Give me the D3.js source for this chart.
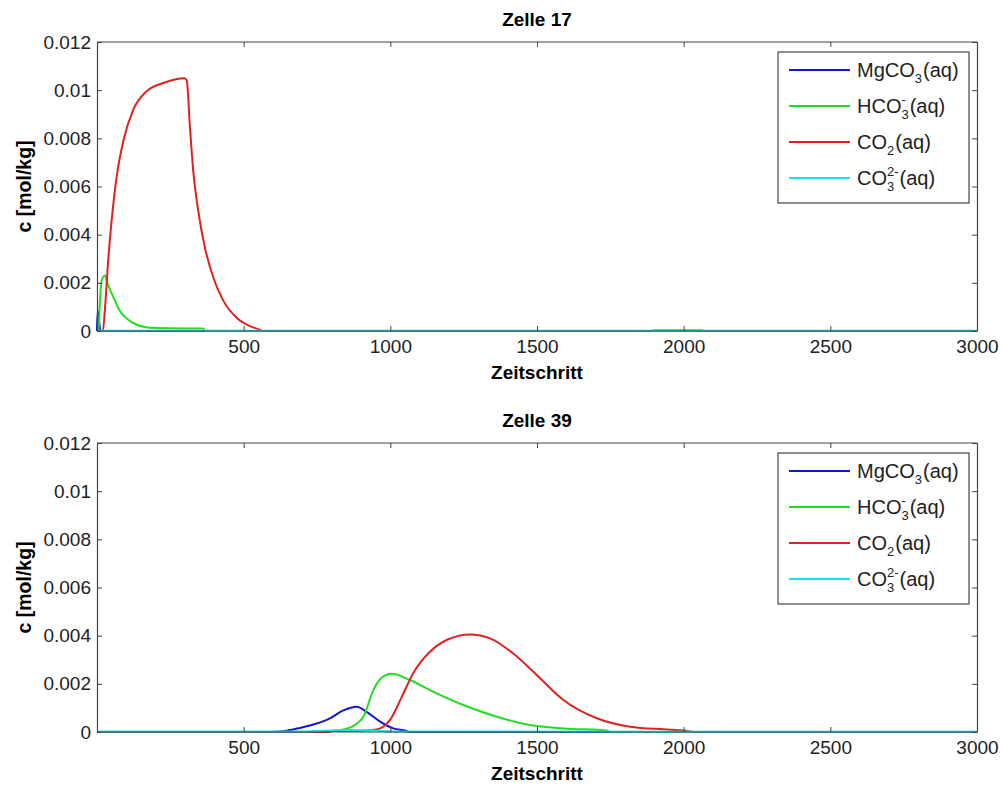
<!DOCTYPE html>
<html lang="de">
<head>
  <meta charset="UTF-8" />
  <title>Zelle 17 / Zelle 39</title>
  <script src="https://d3js.org/d3.v7.min.js"></script>
  <style>
    body { margin: 0; background: #fff; }
    svg { font-family: "Liberation Sans", Arial, sans-serif; }
    .tick text { font-size: 19px; fill: #222; }
    .domain, .tick line { stroke: #444; }
  </style>
</head>
<body>
  <svg width="1003" height="787" id="chart"></svg>

  <script>
    // Zeitschritt / Konzentration [mol/kg]
    const xTicks = [500, 1000, 1500, 2000, 2500, 3000];
    const yTicks = [0, 0.002, 0.004, 0.006, 0.008, 0.01, 0.012];
    const yTickLabels = ["0", "0.002", "0.004", "0.006", "0.008", "0.01", "0.012"];

    const species = ["MgCO3", "HCO3", "CO2", "CO3"];
    const colors = ["#1414d2", "#22dd22", "#e22020", "#10e4ee"];

    // Zelle 17
    const mg17 = [[0,0],[2,0.0008],[5,0.0008],[8,0.0003],[12,0],[3000,0]];
    const hco17 = [[0,0],[5,0],[10,0.0012],[16,0.0021],[27,0.0023],[38,0.0019],[56,0.0014],[78,0.00083],
      [112,0.00042],[158,0.00018],[203,0.00012],[300,0.0001],[362,0.0001],[370,0],[1890,0],[1896,0.00003],
      [2063,0.00003],[2068,0],[3000,0]];
    const co2_17 = [[0,0],[20,0],[27,0.0009],[38,0.0029],[50,0.0046],[67,0.0064],[90,0.0079],[124,0.0092],
      [169,0.00995],[226,0.0103],[298,0.0105],[306,0.0104],[317,0.00845],[328,0.00665],[345,0.005],
      [368,0.00346],[397,0.0022],[431,0.00125],[476,0.00055],[522,0.0002],[556,0.00005],[565,0],[3000,0]];
    const co3_17 = [[0,0.00001],[3000,0.00001]];

    // Zelle 39
    const mg39 = [[0,0],[600,0],[650,0.00006],[692,0.00017],[740,0.00032],[794,0.00057],[840,0.0009],
      [885,0.00105],[919,0.00084],[965,0.00043],[1010,0.00015],[1056,0.00004],[1065,0],[3000,0]];
    const hco39 = [[0,0],[760,0],[820,0.00006],[862,0.00018],[908,0.00063],[942,0.00174],[970,0.00225],
      [1005,0.00242],[1067,0.00216],[1135,0.00174],[1249,0.00112],[1363,0.00063],[1476,0.00029],
      [1590,0.00015],[1738,0.00006],[1750,0],[3000,0]];
    const co2_39 = [[0,0],[790,0],[800,0.00004],[900,0.00005],[953,0.0001],[999,0.0005],[1039,0.00146],
      [1078,0.00244],[1135,0.00333],[1192,0.00382],[1272,0.00405],[1340,0.00389],[1419,0.00326],
      [1499,0.00237],[1590,0.00133],[1704,0.00057],[1817,0.00022],[1931,0.00011],[2000,0.00006],
      [2040,0],[3000,0]];
    const co3_39 = [[0,0.00002],[700,0.00002],[850,0.00008],[950,0.00006],[1000,0.00002],[3000,0.00001]];

    const panels = [
      { title: "Zelle 17", top: 42, series: [mg17, hco17, co2_17, co3_17] },
      { title: "Zelle 39", top: 443, series: [mg39, hco39, co2_39, co3_39] }
    ];

    const svg = d3.select("#chart");
    const left = 97, right = 977, plotH = 289;

    const x = d3.scaleLinear().domain([0, 3000]).range([left, right]);

    const formulas = {
      MgCO3: ["MgCO", "", "3"],
      HCO3: ["HCO", "-", "3"],
      CO2: ["CO", "", "2"],
      CO3: ["CO", "2-", "3"]
    };

    panels.forEach(p => {
      const y = d3.scaleLinear().domain([0, 0.012]).range([p.top + plotH, p.top]);
      const g = svg.append("g");

      // curves
      const line = d3.line()
        .x(d => x(d[0]))
        .y(d => y(d[1]))
        .curve(d3.curveMonotoneX);

      p.series.forEach((s, i) => {
        g.append("path")
          .datum(s)
          .attr("d", line)
          .attr("fill", "none")
          .attr("stroke", colors[i])
          .attr("stroke-width", 2);
      });

      // axes (box with inward ticks)
      g.append("g")
        .attr("transform", `translate(0,${p.top + plotH})`)
        .call(d3.axisBottom(x).tickValues(xTicks).tickFormat(d3.format("d"))
          .tickSizeInner(-5).tickSizeOuter(0).tickPadding(9))
        .call(a => a.select(".domain").attr("d", `M${left},0H${right}`));
      g.append("g")
        .attr("transform", `translate(0,${p.top})`)
        .call(d3.axisTop(x).tickValues(xTicks).tickSizeInner(-5).tickSizeOuter(0).tickFormat(""))
        .call(a => a.select(".domain").attr("d", `M${left},0H${right}`));
      g.append("g")
        .attr("transform", `translate(${left},0)`)
        .call(d3.axisLeft(y).tickValues(yTicks).tickSizeInner(-5).tickSizeOuter(0).tickPadding(6)
          .tickFormat((d, i) => yTickLabels[i]));
      g.append("g")
        .attr("transform", `translate(${right},0)`)
        .call(d3.axisRight(y).tickValues(yTicks).tickSizeInner(-5).tickSizeOuter(0).tickFormat(""));
      g.selectAll(".domain").attr("stroke-width", 1.2);

      // title and labels
      g.append("text")
        .attr("x", (left + right) / 2).attr("y", p.top - 16)
        .attr("text-anchor", "middle").attr("font-size", 19).attr("font-weight", "bold")
        .text(p.title);
      g.append("text")
        .attr("x", (left + right) / 2).attr("y", p.top + plotH + 48)
        .attr("text-anchor", "middle").attr("font-size", 19).attr("font-weight", "bold")
        .text("Zeitschritt");
      g.append("text")
        .attr("transform", `translate(31,${p.top + plotH / 2}) rotate(-90)`)
        .attr("text-anchor", "middle").attr("font-size", 19.5).attr("font-weight", "bold")
        .text("c [mol/kg]");

      // legend
      const lx = 778, ly = p.top + 10, lw = 191, lh = 151;
      const lg = g.append("g").attr("transform", `translate(${lx},${ly})`);
      lg.append("rect").attr("width", lw).attr("height", lh)
        .attr("fill", "#fff").attr("stroke", "#444").attr("stroke-width", 1.2);

      species.forEach((name, i) => {
        const cy = 18 + i * 36;
        lg.append("line")
          .attr("x1", 11).attr("x2", 72).attr("y1", cy).attr("y2", cy)
          .attr("stroke", colors[i]).attr("stroke-width", 2);
        const base = cy + 7;
        const [main, sup, sub] = formulas[name];
        const m = lg.append("text").attr("x", 79).attr("y", base)
          .attr("font-size", 20).attr("fill", "#222").text(main);
        const mw = m.node().getComputedTextLength();
        let w = 0;
        if (sup) {
          const s = lg.append("text").attr("x", 79 + mw).attr("y", base - 9)
            .attr("font-size", 13).attr("fill", "#222").text(sup);
          w = Math.max(w, s.node().getComputedTextLength());
        }
        const b = lg.append("text").attr("x", 79 + mw).attr("y", base + 6)
          .attr("font-size", 13).attr("fill", "#222").text(sub);
        w = Math.max(w, b.node().getComputedTextLength());
        lg.append("text").attr("x", 79 + mw + w + 1).attr("y", base)
          .attr("font-size", 20).attr("fill", "#222").text("(aq)");
      });
    });
  </script>
</body>
</html>
